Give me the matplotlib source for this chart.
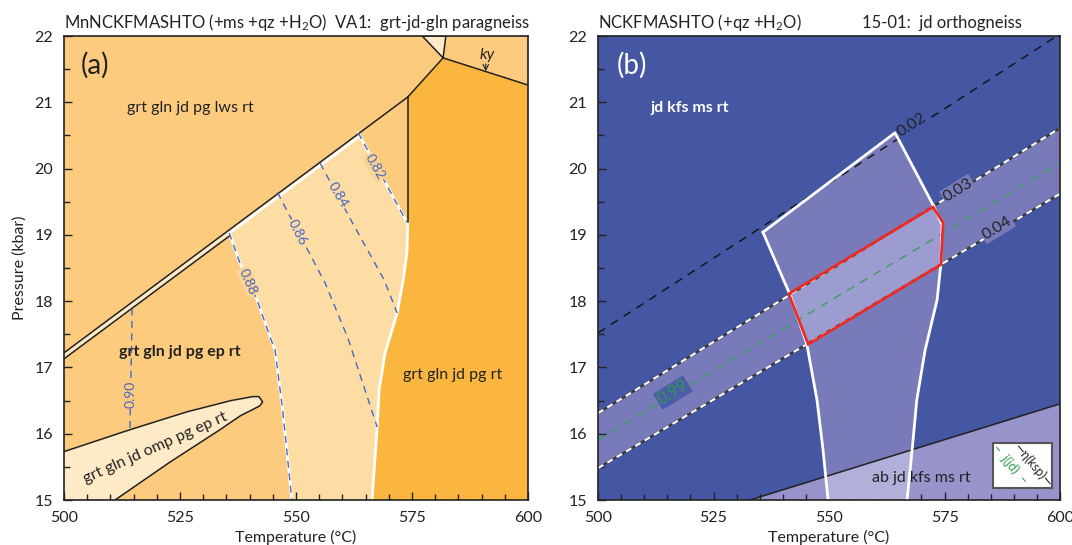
import matplotlib.pyplot as plt
from matplotlib.patches import Polygon, Rectangle
from matplotlib.ticker import MultipleLocator

plt.rcParams['font.family'] = ['Lato', 'DejaVu Sans']
plt.rcParams['mathtext.fontset'] = 'custom'
plt.rcParams['mathtext.rm'] = 'Lato'
plt.rcParams['mathtext.it'] = 'Lato:italic'
plt.rcParams['mathtext.bf'] = 'Lato:bold'

# ---- panel (a): field boundaries (T in degC, P in kbar)
lws_T = [500.0, 574.1]
lws_P = [17.22, 21.08]
strip_T = [500.0, 535.6]
strip_P = [17.13, 18.98]
kink_T = [574.1, 581.7]
kink_P = [21.08, 21.67]
ky_T = [581.7, 600.0]
ky_P = [21.67, 21.26]
tri_T = [577.2, 582.3, 581.7]
tri_P = [22.0, 22.0, 21.67]
vert_T = [574.1, 574.1]
vert_P = [21.08, 19.19]
cen_right_T = [574.1, 573.9, 573.1, 571.8, 569.2, 567.9, 567.5, 566.8, 566.4]
cen_right_P = [19.19, 18.73, 18.32, 17.82, 17.22, 16.66, 16.10, 15.41, 15.0]
lens_T = [500.0, 514.2, 526.5, 536.0, 540.7, 542.0, 542.8, 542.2, 538.0, 533.6, 522.8, 511.0, 500.0]
lens_P = [15.73, 16.06, 16.33, 16.50, 16.56, 16.56, 16.48, 16.42, 16.27, 16.06, 15.57, 15.0, 15.0]

# garnet isopleths, panel (a)
iso_a = {
    "0.82": ([563.4, 573.9], [20.54, 19.19]),
    "0.84": ([555.2, 562.1, 569.0, 571.8], [20.08, 19.19, 18.32, 17.82]),
    "0.86": ([546.0, 556.3, 561.2, 567.5], [19.64, 18.27, 17.44, 16.10]),
    "0.88": ([535.6, 537.9, 541.6, 544.4, 545.5, 547.2, 549.1],
             [19.03, 18.58, 18.02, 17.46, 17.26, 16.31, 15.0]),
    "0.90": ([514.7, 514.2], [17.89, 16.06]),
}
iso_a_lab = {"0.82": (567.0, 20.02, -60), "0.84": (559.1, 19.60, -60),
             "0.86": (550.4, 19.03, -63), "0.88": (539.7, 18.29, -66),
             "0.90": (514.4, 16.59, 90)}

# ---- panel (b)
poly_T = [535.7, 564.3, 572.3, 574.5, 574.2, 573.4, 570.8, 569.0, 568.0, 566.9,
          549.8, 548.7, 547.4, 545.2, 541.6]
poly_P = [19.04, 20.54, 19.48, 19.15, 18.55, 18.02, 17.26, 16.51, 15.76, 15.0,
          15.0, 15.76, 16.51, 17.35, 18.09]
red_T = [541.3, 572.5, 574.7, 574.2, 545.5]
red_P = [18.11, 19.42, 19.18, 18.55, 17.35]
band_hi_P = [16.31, 20.61]   # at T = 500 and 600
band_lo_P = [15.48, 19.62]
jd_P = [15.91, 20.08]
ksp02_P = [17.52, 22.03]
ab_T = [532.9, 600.0]
ab_P = [15.0, 16.45]

orange_main = '#FCCB7E'
orange_dark = '#FBB63F'
orange_pale = '#FDDDA3'
orange_mid = '#FDD491'
cream = '#FEEAC6'
iso_blue = '#4466C4'
blue_base = '#4556A2'
blue_band = '#787ABA'
blue_both = '#9C9CD0'
blue_ab = '#9694CB'
blue_ab_poly = '#B1B0DA'

fig = plt.figure(figsize=(10.72, 5.45), dpi=100)
ax_a = fig.add_axes([64 / 1072, 45 / 545, 464 / 1072, 464 / 545])
ax_b = fig.add_axes([598 / 1072, 45 / 545, 462 / 1072, 464 / 545])


def setup_axis(ax):
    ax.set_xlim(500, 600)
    ax.set_ylim(15, 22)
    ax.xaxis.set_major_locator(MultipleLocator(25))
    ax.xaxis.set_minor_locator(MultipleLocator(5))
    ax.yaxis.set_major_locator(MultipleLocator(1))
    ax.yaxis.set_minor_locator(MultipleLocator(0.5))
    ax.tick_params(which='both', direction='in', top=False, right=False,
                   labelsize=11.5, colors='#222222', width=1)
    ax.tick_params(which='major', length=6, pad=8)
    ax.tick_params(which='minor', length=4)
    for spine in ax.spines.values():
        spine.set_linewidth(1.2)
        spine.set_color('#222222')
        spine.set_zorder(20)
    ax.set_xlabel('Temperature (°C)', fontsize=11.5, labelpad=3.5, color='#222222')


def label(ax, x, y, text, rot, fc, color, size=10):
    ax.text(x, y, text, rotation=rot, rotation_mode='anchor', ha='center', va='center',
            fontsize=size, color=color, zorder=12,
            bbox=dict(boxstyle='square,pad=0.08', fc=fc, ec='none'))


# ================= panel (a)
ax = ax_a
setup_axis(ax)
ax.set_facecolor(orange_main)

dark = list(zip(kink_T + ky_T[1:] + [600.0, 566.4], kink_P + ky_P[1:] + [15.0, 15.0]))
dark += list(zip(cen_right_T[::-1], cen_right_P[::-1]))
ax.add_patch(Polygon(dark, closed=True, fc=orange_dark, ec='none', zorder=1))

lws_at = lambda t: lws_P[0] + (t - lws_T[0]) * (lws_P[1] - lws_P[0]) / (lws_T[1] - lws_T[0])
t88, p88 = iso_a["0.88"]
central = [(535.6, lws_at(535.6)), (563.4, lws_at(563.4))]
central += list(zip(iso_a["0.82"][0], iso_a["0.82"][1]))[1:]
central += list(zip(cen_right_T, cen_right_P))[1:]
central += list(zip(t88[::-1], p88[::-1]))
ax.add_patch(Polygon(central, closed=True, fc=orange_pale, ec='none', zorder=1))

ax.add_patch(Polygon(list(zip(lens_T, lens_P)), closed=True, fc=cream, ec='none', zorder=1))
ax.plot(lens_T[:-1], lens_P[:-1], color='#222222', lw=1.1, zorder=5)
ax.add_patch(Polygon(list(zip(tri_T, tri_P)), closed=True, fc=cream, ec='#222222', lw=1.1, zorder=5))

strip = [(500.0, lws_P[0]), (535.6, lws_at(535.6)), (strip_T[1], strip_P[1]), (strip_T[0], strip_P[0])]
ax.add_patch(Polygon(strip, closed=True, fc=cream, ec='none', zorder=2))
ax.plot(strip_T, strip_P, color='#222222', lw=1.1, zorder=5)

# white field outlines
ax.plot([535.6, 563.4], [lws_at(535.6) - 0.05, lws_at(563.4) - 0.05], color='white', lw=2, zorder=4)
ax.plot(cen_right_T, cen_right_P, color='white', lw=2, zorder=4)
ax.plot(t88, p88, color='white', lw=2, zorder=4)
ax.plot(*iso_a["0.82"], color='white', lw=2, zorder=4)

ax.plot(lws_T, lws_P, color='#222222', lw=1.1, zorder=5)
ax.plot(kink_T, kink_P, color='#222222', lw=1.1, zorder=5)
ax.plot(ky_T, ky_P, color='#222222', lw=1.1, zorder=5)
ax.plot(vert_T, vert_P, color='#222222', lw=1.1, zorder=5)

for key, (t, p) in iso_a.items():
    ax.plot(t, p, color=iso_blue, lw=1.0, ls=(0, (5, 4)), zorder=6)
    x, y, r = iso_a_lab[key]
    if key in ("0.84", "0.86"):
        fc = orange_pale
    elif key == "0.90":
        fc = orange_main
    else:
        fc = orange_mid
    label(ax, x, y, key, r, fc, iso_blue)

ax.text(506.7, 21.56, '(a)', fontsize=20, color='#222222', ha='center', va='center', zorder=12)
ax.text(527.2, 20.91, 'grt gln jd pg lws rt', fontsize=11.5, color='#222222', ha='center', va='center', zorder=12)
ax.text(525.0, 17.23, 'grt gln jd pg ep rt', fontsize=11.5, fontweight='bold', color='#222222',
        ha='center', va='center', zorder=12)
ax.text(519.6, 15.79, 'grt gln jd omp pg ep rt', fontsize=11.5, rotation=24, color='#222222',
        ha='center', va='center', rotation_mode='anchor', zorder=12)
ax.text(583.8, 16.89, 'grt gln jd pg rt', fontsize=11.5, color='#222222', ha='center', va='center', zorder=12)
ax.text(591.2, 21.72, 'ky', fontsize=11.5, style='italic', color='#222222', ha='center', va='center', zorder=12)
ax.annotate('', xy=(590.9, 21.47), xytext=(590.9, 21.58),
            arrowprops=dict(arrowstyle='->', lw=0.8, color='#222222', shrinkA=0, shrinkB=0), zorder=12)
ax.set_ylabel('Pressure (kbar)', fontsize=11.5, color='#222222', labelpad=5)

# ================= panel (b)
ax = ax_b
setup_axis(ax)
ax.set_facecolor(blue_base)

band = [(500, band_hi_P[0]), (600, band_hi_P[1]), (600, band_lo_P[1]), (500, band_lo_P[0])]
ab = [(ab_T[0], ab_P[0]), (ab_T[1], ab_P[1]), (600, 15.0)]
field = list(zip(poly_T, poly_P))

ax.add_patch(Polygon(band, closed=True, fc=blue_band, ec='none', zorder=1))
ax.add_patch(Polygon(ab, closed=True, fc=blue_ab, ec='none', zorder=1))
field_patch = Polygon(field, closed=True, fc=blue_band, ec='none', zorder=2)
ax.add_patch(field_patch)
inner_band = Polygon(band, closed=True, fc=blue_both, ec='none', zorder=3)
ax.add_patch(inner_band)
inner_band.set_clip_path(field_patch)
inner_ab = Polygon(ab, closed=True, fc=blue_ab_poly, ec='none', zorder=3)
ax.add_patch(inner_ab)
inner_ab.set_clip_path(field_patch)

ax.plot(ab_T, ab_P, color='#222222', lw=1.1, zorder=5)
ax.plot([500, 600], ksp02_P, color='#111111', lw=1.0, ls=(0, (6, 5)), zorder=5)
ax.plot([500, 600], jd_P, color='#3BA05A', lw=1.0, ls=(0, (6, 5)), zorder=5)
for edge in (band_hi_P, band_lo_P):
    ax.plot([500, 600], edge, color='#3A3A3A', lw=1.7, zorder=5)
    ax.plot([500, 600], edge, color='white', lw=1.5, ls=(0, (3, 2.2)), zorder=6)

ax.plot(poly_T[:10], poly_P[:10], color='white', lw=2, zorder=7)
ax.plot(poly_T[10:] + poly_T[:1], poly_P[10:] + poly_P[:1], color='white', lw=2, zorder=7)
ax.add_patch(Polygon(list(zip(red_T, red_P)), closed=True, fc='none', ec='#EE2A24', lw=2, zorder=8))

label(ax, 568.0, 20.66, '0.02', 33, blue_base, '#222222', size=11.5)
label(ax, 577.9, 19.68, '0.03', 31.6, blue_band, '#222222', size=11.5)
label(ax, 586.4, 19.10, '0.04', 31.6, blue_band, '#222222', size=11.5)
label(ax, 516.2, 16.62, '0.99', 31.6, '#4C5CAA', '#2E9A4E', size=12)

ax.text(507.4, 21.56, '(b)', fontsize=20, color='white', ha='center', va='center', zorder=12)
ax.text(519.9, 20.91, 'jd kfs ms rt', fontsize=11.5, fontweight='bold', color='white',
        ha='center', va='center', zorder=12)
ax.text(569.9, 15.33, 'ab jd kfs ms rt', fontsize=11.5, color='#222222', ha='center', va='center', zorder=12)

ax.add_patch(Rectangle((0.855, 0.026), 0.128, 0.097, transform=ax.transAxes, fc='white',
                       ec='#555555', lw=1.5, zorder=13))
ax.text(0.9416, 0.0754, '\u2014\u03b7(ksp)\u2014', transform=ax.transAxes, rotation=-50, fontsize=9,
        color='#222222', ha='center', va='center', rotation_mode='anchor', zorder=14)
ax.text(0.8918, 0.0776, '\u2013  j(jd)  \u2013', transform=ax.transAxes, rotation=-50, fontsize=9,
        color='#2E9A4E', ha='center', va='center', rotation_mode='anchor', zorder=14)

# ---- titles above the panels
fig.text(64 / 1072, 1 - 28 / 545, 'MnNCKFMASHTO (+ms +qz +H$_2$O)  VA1:  grt-jd-gln paragneiss',
         fontsize=12, color='#222222', va='baseline')
fig.text(598 / 1072, 1 - 28 / 545, 'NCKFMASHTO (+qz +H$_2$O)', fontsize=12, color='#222222', va='baseline')
fig.text(862 / 1072, 1 - 28 / 545, '15-01:  jd orthogneiss', fontsize=12, color='#222222', va='baseline')

fig.savefig('out.png', dpi=100)
